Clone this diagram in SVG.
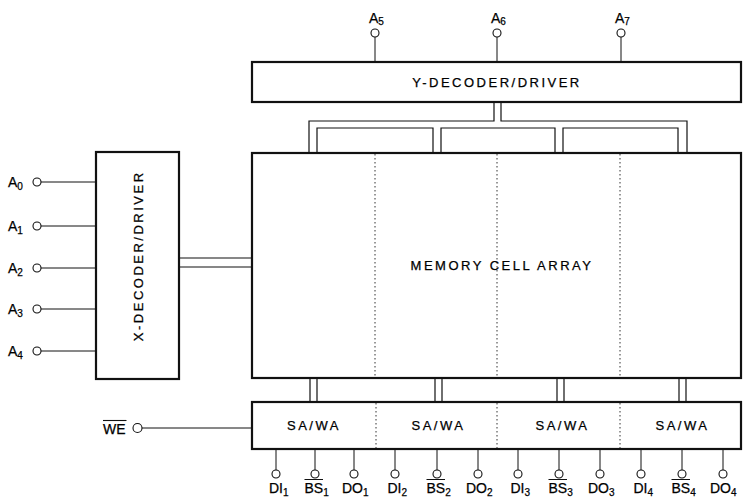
<svg xmlns="http://www.w3.org/2000/svg" width="744" height="497" viewBox="0 0 744 497">
<style>
text{font-family:"Liberation Sans",Arial,Helvetica,sans-serif;fill:#000;stroke:#000;stroke-width:0.25}
.box{fill:#fff;stroke:#111;stroke-width:2.2}
.lbl{font-size:13px;letter-spacing:2.5px;text-anchor:middle}
.pin{font-size:14px}
.sub{font-size:10px}
.div{stroke:#333;stroke-width:1;stroke-dasharray:1.5 2.5;fill:none}
.w{stroke:#111;stroke-width:1;fill:none}
.bus{stroke:#111;stroke-width:1.2;fill:none}
.pc{fill:#fff;stroke:#111;stroke-width:1.1}
.ov{stroke:#111;stroke-width:1.1}
</style>
<rect width="744" height="497" fill="#fff"/>

<g id="connectors">
  <path class="bus" d="M309,153 V121 H494 V102 M501,102 V121 H687 V153"/>
  <path class="bus" d="M317,153 V128 H433 V153 M441,153 V128 H555 V153 M563,153 V128 H678 V153"/>
  <path class="bus" d="M179,258 H252 M179,267 H252"/>
  <path class="bus" d="M310,378 V402 M317,378 V402 M435,378 V402 M442,378 V402 M557,378 V402 M564,378 V402 M679,378 V402 M686,378 V402"/>
  <path class="w" d="M41,182 H96 M41,226 H96 M41,268 H96 M41,309 H96 M41,351 H96"/>
  <path class="w" d="M375,37 V62 M497,37 V62 M621,37 V62"/>
  <path class="w" d="M142,428 H252"/>
  <path class="w" d="M276,449 V470 M315,449 V470 M354,449 V470 M395,449 V470 M437,449 V470 M478,449 V470 M518,449 V470 M559,449 V470 M600,449 V470 M641,449 V470 M682,449 V470 M723,449 V470"/>
</g>

<g id="y-decoder">
  <rect class="box" x="252" y="62" width="489" height="40"/>
  <text class="lbl" x="497" y="86.7">Y-DECODER/DRIVER</text>
</g>

<g id="x-decoder">
  <rect class="box" x="96" y="152" width="83" height="227"/>
  <text class="lbl" transform="translate(138,257) rotate(-90)" x="1.2" y="4.7">X-DECODER/DRIVER</text>
</g>

<g id="memory-array">
  <rect class="box" x="252" y="153" width="489" height="225"/>
  <path class="div" d="M375,154 V377 M497,154 V377 M620,154 V377"/>
  <text class="lbl" x="502" y="269.7">MEMORY CELL ARRAY</text>
</g>

<g id="sa-wa">
  <rect class="box" x="252" y="402" width="489" height="47"/>
  <path class="div" d="M376,403 V448 M497,403 V448 M620,403 V448"/>
  <text class="lbl" x="314" y="430.3">SA/WA</text>
  <text class="lbl" x="438.5" y="430.3">SA/WA</text>
  <text class="lbl" x="562.5" y="430.3">SA/WA</text>
  <text class="lbl" x="682.5" y="430.3">SA/WA</text>
</g>

<g id="pins-x">
  <circle class="pc" cx="37" cy="182" r="4"/>
  <circle class="pc" cx="37" cy="226" r="4"/>
  <circle class="pc" cx="37" cy="268" r="4"/>
  <circle class="pc" cx="37" cy="309" r="4"/>
  <circle class="pc" cx="37" cy="351" r="4"/>
  <text class="pin" x="8" y="187">A<tspan class="sub" dy="3">0</tspan></text>
  <text class="pin" x="8" y="231">A<tspan class="sub" dy="3">1</tspan></text>
  <text class="pin" x="8" y="273">A<tspan class="sub" dy="3">2</tspan></text>
  <text class="pin" x="8" y="314">A<tspan class="sub" dy="3">3</tspan></text>
  <text class="pin" x="8" y="356">A<tspan class="sub" dy="3">4</tspan></text>
</g>

<g id="pins-y">
  <circle class="pc" cx="375" cy="33" r="4"/>
  <circle class="pc" cx="497" cy="33" r="4"/>
  <circle class="pc" cx="621" cy="33" r="4"/>
  <text class="pin" x="369" y="23">A<tspan class="sub" dy="2">5</tspan></text>
  <text class="pin" x="491" y="23">A<tspan class="sub" dy="2">6</tspan></text>
  <text class="pin" x="615" y="23">A<tspan class="sub" dy="2">7</tspan></text>
</g>

<g id="pin-we">
  <circle class="pc" cx="137.5" cy="428" r="4.5"/>
  <text class="pin" x="103" y="433.5">WE</text>
  <line class="ov" x1="103" y1="420.5" x2="126.5" y2="420.5"/>
</g>

<g id="pins-data">
  <circle class="pc" cx="276" cy="474" r="4"/>
  <circle class="pc" cx="315" cy="474" r="4"/>
  <circle class="pc" cx="354" cy="474" r="4"/>
  <circle class="pc" cx="395" cy="474" r="4"/>
  <circle class="pc" cx="437" cy="474" r="4"/>
  <circle class="pc" cx="478" cy="474" r="4"/>
  <circle class="pc" cx="518" cy="474" r="4"/>
  <circle class="pc" cx="559" cy="474" r="4"/>
  <circle class="pc" cx="600" cy="474" r="4"/>
  <circle class="pc" cx="641" cy="474" r="4"/>
  <circle class="pc" cx="682" cy="474" r="4"/>
  <circle class="pc" cx="723" cy="474" r="4"/>

  <text class="pin" x="269" y="493">DI<tspan class="sub" dy="3">1</tspan></text>
  <text class="pin" x="304.5" y="493">BS<tspan class="sub" dy="3">1</tspan></text>
  <text class="pin" x="342" y="493">DO<tspan class="sub" dy="3">1</tspan></text>
  <text class="pin" x="387.5" y="493">DI<tspan class="sub" dy="3">2</tspan></text>
  <text class="pin" x="426.5" y="493">BS<tspan class="sub" dy="3">2</tspan></text>
  <text class="pin" x="466" y="493">DO<tspan class="sub" dy="3">2</tspan></text>
  <text class="pin" x="510.5" y="493">DI<tspan class="sub" dy="3">3</tspan></text>
  <text class="pin" x="548.5" y="493">BS<tspan class="sub" dy="3">3</tspan></text>
  <text class="pin" x="588" y="493">DO<tspan class="sub" dy="3">3</tspan></text>
  <text class="pin" x="633.5" y="493">DI<tspan class="sub" dy="3">4</tspan></text>
  <text class="pin" x="671.5" y="493">BS<tspan class="sub" dy="3">4</tspan></text>
  <text class="pin" x="710" y="493">DO<tspan class="sub" dy="3">4</tspan></text>

  <path class="ov" d="M304.5,479.5 H323 M426.5,479.5 H445 M548.5,479.5 H567 M671.5,479.5 H690"/>
</g>
</svg>
